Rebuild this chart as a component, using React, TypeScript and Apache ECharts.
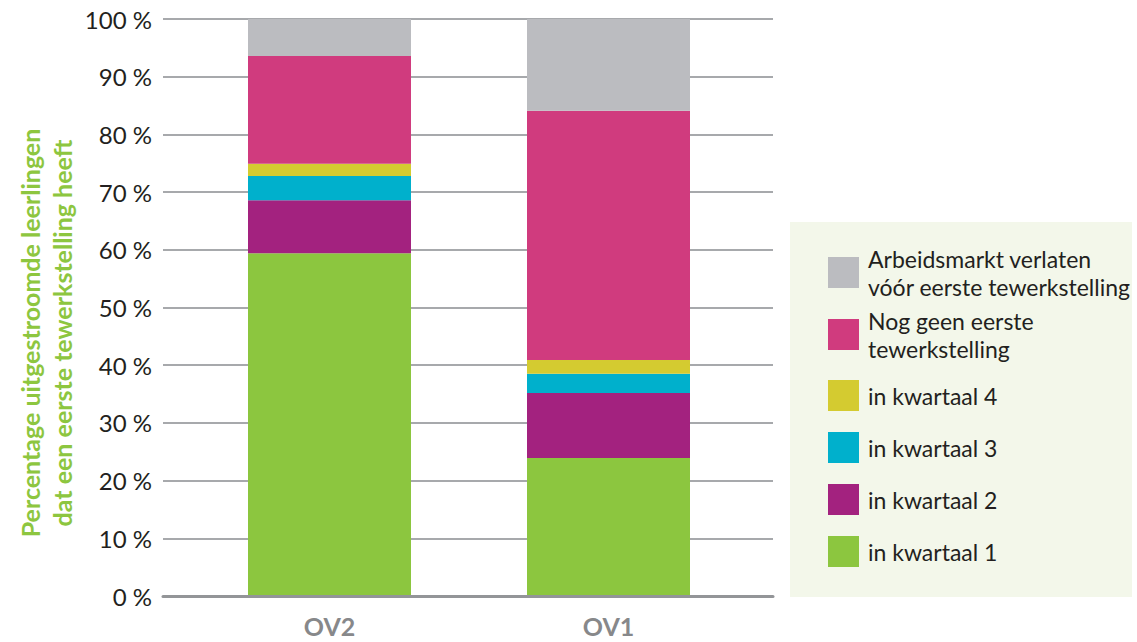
import React, { useEffect, useRef } from "react";
import * as echarts from "echarts";

const categories = ["OV2", "OV1"];
const seriesNames = [
  "in kwartaal 1",
  "in kwartaal 2",
  "in kwartaal 3",
  "in kwartaal 4",
  "Nog geen eerste\ntewerkstelling",
  "Arbeidsmarkt verlaten\nvóór eerste tewerkstelling",
];
const kwartaal1 = [59.4, 23.9];
const kwartaal2 = [9.2, 11.3];
const kwartaal3 = [4.2, 3.3];
const kwartaal4 = [2.1, 2.4];
const nogGeen = [18.7, 43.2];
const verlaten = [6.4, 15.9];
const seriesValues = [kwartaal1, kwartaal2, kwartaal3, kwartaal4, nogGeen, verlaten];
const seriesColors = ["#8cc63f", "#a3227f", "#00b0cc", "#d4cb30", "#d03b7e", "#bbbcc0"];
const yTicks = [0, 10, 20, 30, 40, 50, 60, 70, 80, 90, 100];
const yTitle = "Percentage uitgestroomde leerlingen\ndat een eerste tewerkstelling heeft";

const FONT = "Lato, 'Open Sans', sans-serif";

export default function App() {
  const ref = useRef<HTMLDivElement>(null);
  useEffect(() => {
    if (!ref.current) return;
    const chart = echarts.init(ref.current, null, { renderer: "svg" });
    const legendCenters = [551.5, 499.5, 447.5, 395.5, 334.5, 272.5];
    const legends = seriesNames.map((name, i) => {
      const lines = name.split("\n").length;
      const h = Math.max(31, lines * 28);
      return {
        data: [{ name, icon: "rect" }],
        left: 823,
        top: legendCenters[i] - h / 2 - 5,
        itemWidth: 31,
        itemHeight: 31,
        selectedMode: false,
        textStyle: {
          fontFamily: FONT,
          fontSize: 23,
          color: "#231f20",
          lineHeight: 28,
          padding: [0, 0, 0, 4],
        },
      };
    });
    chart.setOption({
      animation: false,
      textStyle: { fontFamily: FONT },
      graphic: [
        {
          type: "rect",
          shape: { x: 790, y: 222, width: 342, height: 375 },
          style: { fill: "#f3f7ea" },
          z: -10,
        },
        {
          type: "text",
          x: 46,
          y: 333,
          rotation: Math.PI / 2,
          style: {
            text: yTitle,
            fontFamily: FONT,
            fontSize: 25,
            fontWeight: "bold",
            fill: "#8dc63f",
            lineHeight: 32,
            align: "center",
            verticalAlign: "middle",
          },
        },
      ],
      legend: legends,
      grid: [
        { left: 163, right: 364, top: 19, bottom: 46 },
        { left: 190, right: 389, top: 19, bottom: 46 },
      ],
      xAxis: [
        {
          type: "value",
          gridIndex: 0,
          min: 0,
          max: 1,
          z: 5,
          axisLine: { show: true, lineStyle: { color: "#939598", width: 3 } },
          axisTick: { show: false },
          axisLabel: { show: false },
          splitLine: { show: false },
        },
        {
          type: "category",
          gridIndex: 1,
          data: categories,
          axisLine: { show: false },
          axisTick: { show: false },
          axisLabel: {
            fontFamily: FONT,
            fontSize: 25,
            fontWeight: "bold",
            color: "#87888a",
            margin: 17,
          },
        },
      ],
      yAxis: [
        {
          type: "value",
          gridIndex: 0,
          min: 0,
          max: 100,
          interval: 10,
          axisLine: { show: false },
          axisTick: { show: false },
          axisLabel: {
            fontFamily: FONT,
            fontSize: 24,
            color: "#231f20",
            margin: 11,
            formatter: (v: number) => (yTicks.includes(v) ? `${v} %` : ""),
          },
          splitLine: { show: true, lineStyle: { color: "#a7a9ac", width: 2 } },
        },
        {
          type: "value",
          gridIndex: 1,
          min: 0,
          max: 100,
          show: false,
          splitLine: { show: false },
        },
      ],
      series: seriesNames.map((name, i) => ({
        name,
        type: "bar",
        stack: "total",
        xAxisIndex: 1,
        yAxisIndex: 1,
        barWidth: 163,
        data: seriesValues[i],
        itemStyle: { color: seriesColors[i] },
      })),
    });
    return () => chart.dispose();
  }, []);
  return <div ref={ref} style={{ width: 1137, height: 642, position: "absolute", left: 0, top: 0 }} />;
}
